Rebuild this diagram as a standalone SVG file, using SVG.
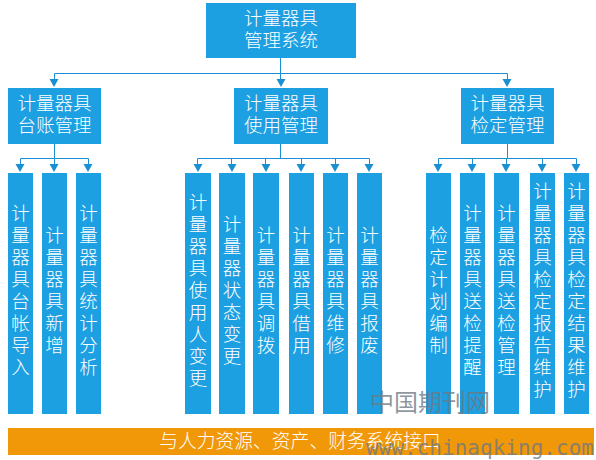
<svg xmlns="http://www.w3.org/2000/svg" width="596" height="460" viewBox="0 0 596 460">
<defs>
<style>
.n{fill:#1ca0e2}
.t{fill:#fff;font-family:"Noto Sans CJK SC","Liberation Sans",sans-serif;font-size:18.500px;text-anchor:middle;font-weight:300}
.c{fill:none;stroke:#1a90d2;stroke-width:1}
.wm{fill:#6f7985;fill-opacity:.8;font-family:"Noto Sans CJK SC","Liberation Sans",sans-serif}
</style>
<path id="ah" d="M-4.500 0H4.500L0 8Z" fill="#1a90d2"/>
</defs>
<g id="connectors">
<path class="c" d="M280.500 58V73.500M54.500 73.500H507.500M54.500 73.500V80M280.500 73.500V80M507.500 73.500V80"/>
<path class="c" d="M54.500 144V158.500M20.500 158.500H88.500M20.500 158.500V165M54.500 158.500V165M88.500 158.500V165"/>
<path class="c" d="M280.500 144V158.500M197.500 158.500H369.500M197.500 158.500V165M231.500 158.500V165M265.500 158.500V165M301.500 158.500V165M335.500 158.500V165M369.500 158.500V165"/>
<path class="c" d="M507.500 144V158.500M438.500 158.500H576.500M438.500 158.500V165M472.500 158.500V165M506.500 158.500V165M542.500 158.500V165M576.500 158.500V165"/>
<g>
<use href="#ah" x="54" y="79"/><use href="#ah" x="281" y="79"/><use href="#ah" x="507" y="79"/>
<use href="#ah" x="20" y="164"/><use href="#ah" x="54" y="164"/><use href="#ah" x="88" y="164"/>
<use href="#ah" x="198" y="164"/><use href="#ah" x="232" y="164"/><use href="#ah" x="266" y="164"/><use href="#ah" x="301" y="164"/><use href="#ah" x="335" y="164"/><use href="#ah" x="369" y="164"/>
<use href="#ah" x="438" y="164"/><use href="#ah" x="472" y="164"/><use href="#ah" x="506" y="164"/><use href="#ah" x="542" y="164"/><use href="#ah" x="576" y="164"/>
</g>
</g>
<g id="root"><rect class="n" x="206" y="3" width="150" height="55"/><text class="t"><tspan x="281" y="25">计量器具</tspan><tspan x="281" y="47">管理系统</tspan></text></g>
<g id="m1"><rect class="n" x="8" y="88" width="93" height="56"/><text class="t"><tspan x="54.500" y="110">计量器具</tspan><tspan x="54.500" y="132">台账管理</tspan></text></g>
<g id="m2"><rect class="n" x="234" y="88" width="94" height="56"/><text class="t"><tspan x="281" y="110">计量器具</tspan><tspan x="281" y="132">使用管理</tspan></text></g>
<g id="m3"><rect class="n" x="461" y="88" width="93" height="56"/><text class="t"><tspan x="507.500" y="110">计量器具</tspan><tspan x="507.500" y="132">检定管理</tspan></text></g>
<g id="l1"><rect class="n" x="8" y="173" width="25" height="241"/><text class="t"><tspan x="20.500" y="220">计</tspan><tspan x="20.500" dy="22">量</tspan><tspan x="20.500" dy="22">器</tspan><tspan x="20.500" dy="22">具</tspan><tspan x="20.500" dy="22">台</tspan><tspan x="20.500" dy="22">帐</tspan><tspan x="20.500" dy="22">导</tspan><tspan x="20.500" dy="22">入</tspan></text></g>
<g id="l2"><rect class="n" x="42" y="173" width="25" height="241"/><text class="t"><tspan x="54.500" y="242">计</tspan><tspan x="54.500" dy="22">量</tspan><tspan x="54.500" dy="22">器</tspan><tspan x="54.500" dy="22">具</tspan><tspan x="54.500" dy="22">新</tspan><tspan x="54.500" dy="22">增</tspan></text></g>
<g id="l3"><rect class="n" x="76" y="173" width="25" height="241"/><text class="t"><tspan x="88.500" y="220">计</tspan><tspan x="88.500" dy="22">量</tspan><tspan x="88.500" dy="22">器</tspan><tspan x="88.500" dy="22">具</tspan><tspan x="88.500" dy="22">统</tspan><tspan x="88.500" dy="22">计</tspan><tspan x="88.500" dy="22">分</tspan><tspan x="88.500" dy="22">析</tspan></text></g>
<g id="l4"><rect class="n" x="185" y="173" width="26" height="241"/><text class="t"><tspan x="198" y="209">计</tspan><tspan x="198" dy="22">量</tspan><tspan x="198" dy="22">器</tspan><tspan x="198" dy="22">具</tspan><tspan x="198" dy="22">使</tspan><tspan x="198" dy="22">用</tspan><tspan x="198" dy="22">人</tspan><tspan x="198" dy="22">变</tspan><tspan x="198" dy="22">更</tspan></text></g>
<g id="l5"><rect class="n" x="219" y="173" width="26" height="241"/><text class="t"><tspan x="232" y="231">计</tspan><tspan x="232" dy="22">量</tspan><tspan x="232" dy="22">器</tspan><tspan x="232" dy="22">状</tspan><tspan x="232" dy="22">态</tspan><tspan x="232" dy="22">变</tspan><tspan x="232" dy="22">更</tspan></text></g>
<g id="l6"><rect class="n" x="253" y="173" width="26" height="241"/><text class="t"><tspan x="266" y="242">计</tspan><tspan x="266" dy="22">量</tspan><tspan x="266" dy="22">器</tspan><tspan x="266" dy="22">具</tspan><tspan x="266" dy="22">调</tspan><tspan x="266" dy="22">拨</tspan></text></g>
<g id="l7"><rect class="n" x="289" y="173" width="25" height="241"/><text class="t"><tspan x="301.500" y="242">计</tspan><tspan x="301.500" dy="22">量</tspan><tspan x="301.500" dy="22">器</tspan><tspan x="301.500" dy="22">具</tspan><tspan x="301.500" dy="22">借</tspan><tspan x="301.500" dy="22">用</tspan></text></g>
<g id="l8"><rect class="n" x="323" y="173" width="25" height="241"/><text class="t"><tspan x="335.500" y="242">计</tspan><tspan x="335.500" dy="22">量</tspan><tspan x="335.500" dy="22">器</tspan><tspan x="335.500" dy="22">具</tspan><tspan x="335.500" dy="22">维</tspan><tspan x="335.500" dy="22">修</tspan></text></g>
<g id="l9"><rect class="n" x="357" y="173" width="25" height="241"/><text class="t"><tspan x="369.500" y="242">计</tspan><tspan x="369.500" dy="22">量</tspan><tspan x="369.500" dy="22">器</tspan><tspan x="369.500" dy="22">具</tspan><tspan x="369.500" dy="22">报</tspan><tspan x="369.500" dy="22">废</tspan></text></g>
<g id="l10"><rect class="n" x="426" y="173" width="25" height="241"/><text class="t"><tspan x="438.500" y="242">检</tspan><tspan x="438.500" dy="22">定</tspan><tspan x="438.500" dy="22">计</tspan><tspan x="438.500" dy="22">划</tspan><tspan x="438.500" dy="22">编</tspan><tspan x="438.500" dy="22">制</tspan></text></g>
<g id="l11"><rect class="n" x="460" y="173" width="25" height="241"/><text class="t"><tspan x="472.500" y="220">计</tspan><tspan x="472.500" dy="22">量</tspan><tspan x="472.500" dy="22">器</tspan><tspan x="472.500" dy="22">具</tspan><tspan x="472.500" dy="22">送</tspan><tspan x="472.500" dy="22">检</tspan><tspan x="472.500" dy="22">提</tspan><tspan x="472.500" dy="22">醒</tspan></text></g>
<g id="l12"><rect class="n" x="494" y="173" width="25" height="241"/><text class="t"><tspan x="506.500" y="220">计</tspan><tspan x="506.500" dy="22">量</tspan><tspan x="506.500" dy="22">器</tspan><tspan x="506.500" dy="22">具</tspan><tspan x="506.500" dy="22">送</tspan><tspan x="506.500" dy="22">检</tspan><tspan x="506.500" dy="22">管</tspan><tspan x="506.500" dy="22">理</tspan></text></g>
<g id="l13"><rect class="n" x="530" y="173" width="25" height="241"/><text class="t"><tspan x="542.500" y="198">计</tspan><tspan x="542.500" dy="22">量</tspan><tspan x="542.500" dy="22">器</tspan><tspan x="542.500" dy="22">具</tspan><tspan x="542.500" dy="22">检</tspan><tspan x="542.500" dy="22">定</tspan><tspan x="542.500" dy="22">报</tspan><tspan x="542.500" dy="22">告</tspan><tspan x="542.500" dy="22">维</tspan><tspan x="542.500" dy="22">护</tspan></text></g>
<g id="l14"><rect class="n" x="564" y="173" width="25" height="241"/><text class="t"><tspan x="576.500" y="198">计</tspan><tspan x="576.500" dy="22">量</tspan><tspan x="576.500" dy="22">器</tspan><tspan x="576.500" dy="22">具</tspan><tspan x="576.500" dy="22">检</tspan><tspan x="576.500" dy="22">定</tspan><tspan x="576.500" dy="22">结</tspan><tspan x="576.500" dy="22">果</tspan><tspan x="576.500" dy="22">维</tspan><tspan x="576.500" dy="22">护</tspan></text></g>
<g id="bar"><rect x="8" y="428" width="586" height="27" fill="#f09808"/><text class="t" x="300" y="448" style="font-size:18.800px">与人力资源、资产、财务系统接口</text></g>
<g id="watermark"><text class="wm" x="370" y="411" font-size="24" textLength="120">中国期刊网</text><text class="wm" x="366" y="455" font-size="21" textLength="228" style="font-family:'DejaVu Sans Mono','Liberation Mono',monospace">www.chinaqking.com</text></g>
</svg>
